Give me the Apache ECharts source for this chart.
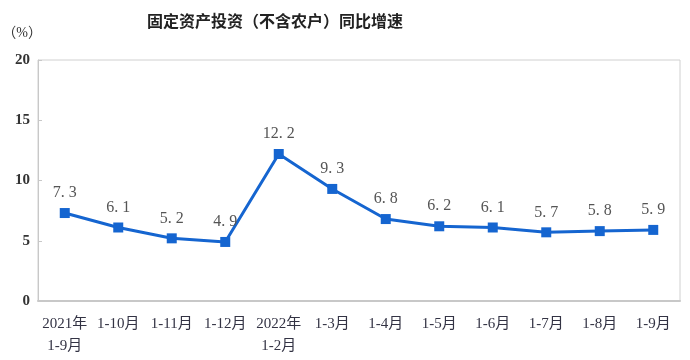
<!DOCTYPE html>
<html>
<head>
<meta charset="utf-8">
<script src="https://cdn.jsdelivr.net/npm/echarts@6/dist/echarts.min.js"></script>
<style>
  html, body { margin: 0; padding: 0; background: #fff; }
  #chart { width: 690px; height: 360px; }
</style>
</head>
<body>
<div id="chart"></div>
<script>
// 固定资产投资同比增速
var categories = ["2021年\n1-9月", "1-10月", "1-11月", "1-12月", "2022年\n1-2月", "1-3月",
  "1-4月", "1-5月", "1-6月", "1-7月", "1-8月", "1-9月"];
var growth = [7.3, 6.1, 5.2, 4.9, 12.2, 9.3, 6.8, 6.2, 6.1, 5.7, 5.8, 5.9];
var yTicks = [0, 5, 10, 15, 20];

var serif = '"Liberation Serif", "DejaVu Serif", "Noto Sans CJK SC", serif';

var chart = echarts.init(document.getElementById("chart"));
var option = {
  animation: false,
  title: {
    text: "固定资产投资（不含农户）同比增速",
    left: 142,
    top: 8,
    textStyle: { fontSize: 16, fontWeight: "bold", color: "#222", fontFamily: '"Noto Sans CJK SC", sans-serif' }
  },
  grid: {
    left: 38, right: 10, top: 60, bottom: 59,
    outerBoundsMode: "none",
    show: true, borderColor: "#d0d0d0", borderWidth: 1
  },
  xAxis: {
    type: "category",
    data: categories,
    boundaryGap: true,
    axisLine: { lineStyle: { color: "#c8c8c8", width: 2 } },
    axisTick: { inside: true, length: 5, lineStyle: { color: "#c8c8c8" } },
    axisLabel: {
      margin: 12, interval: 0, color: "#334", fontSize: 15, lineHeight: 22,
      fontFamily: serif
    }
  },
  yAxis: {
    type: "value",
    min: yTicks[0], max: yTicks[yTicks.length - 1], interval: 5,
    name: "（%）",
    nameLocation: "end",
    nameGap: 20,
    nameTextStyle: { color: "#333", fontSize: 14, align: "right", padding: [0, -4, 0, 0], fontFamily: serif },
    axisLine: { show: true, lineStyle: { color: "#c8c8c8", width: 1 } },
    axisTick: { show: true, inside: true, length: 4, lineStyle: { color: "#c8c8c8" } },
    splitLine: { show: false },
    axisLabel: { margin: 8, color: "#333", fontSize: 15, fontWeight: "bold", fontFamily: serif }
  },
  series: [{
    type: "line",
    data: growth,
    symbol: "rect",
    symbolSize: 10,
    lineStyle: { color: "#1565d0", width: 3 },
    itemStyle: { color: "#1565d0" },
    label: {
      show: true, position: "top", distance: 7,
      color: "#555", fontSize: 16, fontFamily: serif,
      formatter: function (p) { return p.value.toFixed(1).replace(".", ". "); }
    }
  }]
};
chart.setOption(option);
</script>
</body>
</html>
